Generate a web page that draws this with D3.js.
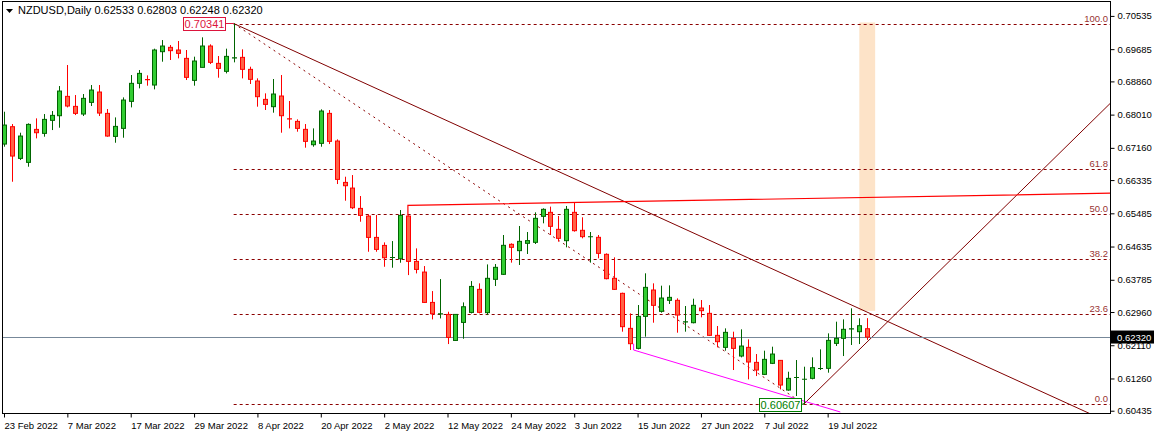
<!DOCTYPE html>
<html>
<head>
<meta charset="utf-8">
<script src="https://cdn.jsdelivr.net/npm/d3@7"></script>
<style>
  body { margin: 0; background: #fff; }
  svg { display: block; font-family: "Liberation Sans", Arial, sans-serif; }
</style>
</head>
<body>
<div id="chart-area"></div>
<script>
// NZDUSD daily candles, 23 Feb 2022 .. 26 Jul 2022 : [open, high, low, close]
var ohlc = [
  [0.67257,0.68084,0.67189,0.67743],[0.67701,0.67769,0.66293,0.66950],[0.66890,0.67547,0.66848,0.67462],
  [0.66788,0.67786,0.66677,0.67760],[0.67632,0.67914,0.67402,0.67547],[0.67530,0.68025,0.67445,0.67888],
  [0.67863,0.68102,0.67615,0.67991],[0.67982,0.68741,0.67675,0.68613],[0.68477,0.69279,0.68195,0.68230],
  [0.68221,0.68511,0.67999,0.68042],[0.68025,0.68537,0.67974,0.68426],[0.68323,0.68767,0.68230,0.68639],
  [0.68588,0.68767,0.67974,0.68050],[0.68042,0.68153,0.67445,0.67462],[0.67453,0.67939,0.67291,0.67709],
  [0.67658,0.68451,0.67419,0.68383],[0.68349,0.69023,0.68195,0.68810],[0.68810,0.69151,0.68682,0.69065],
  [0.68905,0.69014,0.68750,0.68886],[0.68767,0.69697,0.68656,0.69663],[0.69620,0.69918,0.69364,0.69765],
  [0.69731,0.69790,0.69407,0.69646],[0.69663,0.69893,0.69449,0.69577],[0.69449,0.69663,0.68895,0.68963],
  [0.68886,0.69492,0.68750,0.69381],[0.69219,0.69987,0.69219,0.69765],[0.69765,0.69808,0.69304,0.69347],
  [0.69321,0.69509,0.68954,0.69193],[0.69117,0.69697,0.69065,0.69500],[0.69440,0.70341,0.69347,0.69460],
  [0.69475,0.69680,0.68937,0.69168],[0.69168,0.69236,0.68793,0.68912],[0.68870,0.68938,0.68213,0.68469],
  [0.68400,0.68554,0.68128,0.68272],[0.68213,0.68921,0.68059,0.68537],[0.68486,0.69023,0.67547,0.67982],
  [0.67900,0.68358,0.67658,0.67889],[0.67837,0.67889,0.67573,0.67658],[0.67633,0.67769,0.67164,0.67326],
  [0.67240,0.67658,0.67189,0.67334],[0.67275,0.68145,0.67189,0.68102],[0.68042,0.68128,0.67257,0.67326],
  [0.67334,0.67377,0.66234,0.66353],[0.66276,0.66421,0.65807,0.66191],[0.66131,0.66464,0.65594,0.65628],
  [0.65611,0.65927,0.65270,0.65432],[0.65415,0.65458,0.64502,0.64869],[0.64869,0.65441,0.64502,0.64562],
  [0.64664,0.64741,0.64118,0.64349],[0.64340,0.64775,0.64093,0.64355],[0.64323,0.65569,0.64221,0.65432],
  [0.65415,0.65432,0.63905,0.64255],[0.64255,0.64588,0.63948,0.64050],[0.63982,0.64136,0.63197,0.63206],
  [0.63206,0.63496,0.62771,0.62916],[0.62900,0.63803,0.62796,0.62915],[0.62899,0.62967,0.62140,0.62310],
  [0.62233,0.62899,0.62225,0.62899],[0.62694,0.63206,0.62276,0.63095],[0.62950,0.63752,0.62924,0.63615],
  [0.63540,0.63694,0.62926,0.62952],[0.62944,0.64178,0.62882,0.63822],[0.63796,0.64188,0.63625,0.64103],
  [0.63924,0.64930,0.63907,0.64666],[0.64692,0.64717,0.64223,0.64615],[0.64530,0.65161,0.64163,0.64768],
  [0.64717,0.65007,0.64444,0.64787],[0.64743,0.65510,0.64700,0.65357],[0.65408,0.65613,0.65229,0.65587],
  [0.65510,0.65656,0.64930,0.65152],[0.65075,0.65417,0.64760,0.64845],[0.64785,0.65673,0.64615,0.65587],
  [0.65510,0.65766,0.65016,0.65041],[0.65050,0.65383,0.64845,0.64888],[0.64870,0.65007,0.64223,0.64885],
  [0.64871,0.64930,0.64333,0.64461],[0.64436,0.64461,0.63796,0.63813],[0.63822,0.64359,0.63523,0.63540],
  [0.63438,0.63455,0.62457,0.62585],[0.62542,0.62926,0.61988,0.62150],[0.62030,0.63139,0.62005,0.62849],
  [0.62849,0.63950,0.62329,0.63591],[0.63523,0.63694,0.62687,0.63131],[0.62977,0.63634,0.62943,0.63318],
  [0.63259,0.63642,0.63165,0.63335],[0.63259,0.63310,0.62431,0.62883],[0.62700,0.63114,0.62457,0.62708],
  [0.62687,0.63301,0.62670,0.63131],[0.63062,0.63267,0.62824,0.62994],[0.62926,0.63139,0.62346,0.62363],
  [0.62363,0.62602,0.62056,0.62201],[0.62056,0.62542,0.61971,0.62440],[0.62286,0.62457,0.61476,0.62030],
  [0.61834,0.62517,0.61800,0.62090],[0.62056,0.62261,0.61237,0.61681],[0.61672,0.61885,0.61322,0.61476],
  [0.61365,0.61971,0.61348,0.61749],[0.61647,0.62073,0.61629,0.61885],[0.61723,0.61732,0.60981,0.61092],
  [0.60964,0.61433,0.60947,0.61263],[0.61275,0.61732,0.60811,0.61285],[0.61230,0.61561,0.60607,0.61240],
  [0.61263,0.61800,0.61237,0.61536],[0.61505,0.62005,0.61476,0.61515],[0.61519,0.62414,0.61408,0.62235],
  [0.62158,0.62713,0.62090,0.62286],[0.62286,0.62772,0.61834,0.62517],[0.62520,0.63054,0.62116,0.62530],
  [0.62457,0.62798,0.62141,0.62610],[0.62533,0.62803,0.62248,0.62320]
];

var dateTicks = ['23 Feb 2022','7 Mar 2022','17 Mar 2022','29 Mar 2022','8 Apr 2022','20 Apr 2022',
  '2 May 2022','12 May 2022','24 May 2022','3 Jun 2022','15 Jun 2022','27 Jun 2022','7 Jul 2022','19 Jul 2022'];
var priceTicks = [0.70535,0.69685,0.68860,0.68010,0.67160,0.66335,0.65485,0.64635,0.63785,0.62960,0.62110,0.61260,0.60435];

var fibHigh = 0.70341, fibLow = 0.60607;
var fibRatios = [100.0, 61.8, 50.0, 38.2, 23.6, 0.0];

var width = 1156, height = 435;
var plot = { left: 2.5, right: 1110.5, top: 1.5, bottom: 413.5 };

var svg = d3.select('#chart-area').append('svg')
    .attr('width', width).attr('height', height);

var x = d3.scaleLinear().domain([0, 139.4]).range([4, 1108]);
var y = d3.scaleLinear().domain([fibLow, fibHigh]).range([404, 23.5]);

svg.append('clipPath').attr('id', 'plotclip').append('rect')
    .attr('x', plot.left).attr('y', plot.top)
    .attr('width', plot.right - plot.left).attr('height', plot.bottom - plot.top);

var g = svg.append('g').attr('clip-path', 'url(#plotclip)');

function lineThrough(i1, p1, i2, p2, x1, x2) {
    var s = (p2 - p1) / (i2 - i1);
    return [[x1, p1 + s * (x1 - i1)], [x2, p1 + s * (x2 - i1)]];
}

// time zone highlight
g.append('rect')
    .attr('x', x(108)).attr('width', x(110) - x(108))
    .attr('y', y(0.70341) - 1).attr('height', y(0.62989) - y(0.70341) + 1)
    .attr('fill', '#fde3c8');

// fibonacci levels
var fibDark = '#8b0000';
fibRatios.forEach(function (r) {
    var p = fibLow + (fibHigh - fibLow) * r / 100;
    g.append('line')
        .attr('x1', x(29)).attr('x2', plot.right)
        .attr('y1', Math.round(y(p)) + 0.5).attr('y2', Math.round(y(p)) + 0.5)
        .attr('stroke', fibDark).attr('stroke-dasharray', '3,3');
    g.append('text')
        .attr('x', 1108).attr('y', Math.round(y(p)) - 2)
        .attr('text-anchor', 'end').attr('font-size', 9.5)
        .attr('fill', '#993333').text(r.toFixed(1));
});

// fib trend (dashed)
g.append('line')
    .attr('x1', x(29)).attr('y1', y(fibHigh)).attr('x2', x(101)).attr('y2', y(fibLow))
    .attr('stroke', fibDark).attr('stroke-dasharray', '2,4');

var lineGen = d3.line().x(function (d) { return x(d[0]); }).y(function (d) { return y(d[1]); });

// descending trendline
g.append('path')
    .attr('d', lineGen(lineThrough(29, 0.70341, 109, 0.62956, 29, 140)))
    .attr('stroke', '#800000').attr('fill', 'none');

// rising trendline
g.append('path')
    .attr('d', lineGen(lineThrough(101, 0.60607, 139.6, 0.68282, 101, 140)))
    .attr('stroke', '#800000').attr('fill', 'none');

// red resistance line
g.append('path')
    .attr('d', lineGen([[51, 0.65432], [51, 0.65688], [140, 0.66000]]))
    .attr('stroke', '#ff0000').attr('stroke-width', 1.2).attr('fill', 'none');

// magenta support line
g.append('path')
    .attr('d', lineGen([[79.5, 0.62150], [79.5, 0.61988], [105.6, 0.60402]]))
    .attr('stroke', '#ff00ff').attr('fill', 'none');

// current price line
g.append('line')
    .attr('x1', plot.left).attr('x2', plot.right)
    .attr('y1', Math.round(y(0.62320)) + 0.5).attr('y2', Math.round(y(0.62320)) + 0.5)
    .attr('stroke', '#778899');

// candles
var bars = g.selectAll('.candle').data(ohlc).enter().append('g').attr('class', 'candle');
bars.each(function (d, i) {
    var up = d[3] >= d[0];
    var cx = Math.round(x(i)) + 0.5;
    var el = d3.select(this);
    var wick = up ? '#006400' : '#ff0000';
    el.append('line')
        .attr('x1', cx).attr('x2', cx)
        .attr('y1', y(d[1])).attr('y2', y(d[2]))
        .attr('stroke', wick);
    var top = y(Math.max(d[0], d[3])), bot = y(Math.min(d[0], d[3]));
    if (bot - top < 1.5) {
        el.append('line').attr('x1', cx - 2.5).attr('x2', cx + 2.5)
            .attr('y1', top).attr('y2', top).attr('stroke', wick).attr('stroke-width', 1.2);
    } else {
        el.append('rect')
            .attr('x', cx - 2).attr('width', 4)
            .attr('y', top).attr('height', bot - top)
            .attr('fill', up ? '#32cd32' : '#ff6347')
            .attr('stroke', wick);
    }
});

// price labels at the extremes
function priceTag(text, bx, by, color, i, p) {
    svg.append('line')
        .attr('x1', bx + 42).attr('y1', by + 6.5).attr('x2', x(i)).attr('y2', y(p))
        .attr('stroke', color);
    svg.append('rect')
        .attr('x', bx + 0.5).attr('y', by + 0.5).attr('width', 42).attr('height', 13)
        .attr('fill', '#fff').attr('stroke', color);
    svg.append('text')
        .attr('x', bx + 21.5).attr('y', by + 11).attr('text-anchor', 'middle')
        .attr('font-size', 11).attr('fill', color).text(text);
}
priceTag('0.70341', 183, 17, '#dc143c', 29, 0.70341);
priceTag('0.60607', 759, 398, '#008000', 101, 0.60607);

// frame
svg.append('rect')
    .attr('x', plot.left).attr('y', plot.top)
    .attr('width', plot.right - plot.left).attr('height', plot.bottom - plot.top)
    .attr('fill', 'none').attr('stroke', '#000');

// right price axis
var yAxis = d3.axisRight(y).tickValues(priceTicks).tickSize(4)
    .tickFormat(function (d) { return d.toFixed(5); });
svg.append('g')
    .attr('class', 'y-axis')
    .attr('transform', 'translate(' + plot.right + ',0)')
    .call(yAxis)
    .call(function (a) {
        a.select('.domain').remove();
        a.selectAll('text').attr('font-size', 9.5)
            .attr('font-family', 'Liberation Sans, Arial, sans-serif').attr('x', 7);
    });

// current price box
svg.append('rect')
    .attr('x', 1111).attr('y', y(0.62320) - 6.5).attr('width', 43).attr('height', 13).attr('fill', '#000');
svg.append('text')
    .attr('x', 1117).attr('y', y(0.62320) + 4)
    .attr('font-size', 9.5).attr('font-family', 'Liberation Sans, Arial, sans-serif')
    .attr('fill', '#fff').text('0.62320');

// bottom date axis
var xTicks = dateTicks.map(function (d, i) { return i * 8; });
var xAxis = d3.axisBottom(x).tickValues(xTicks).tickSize(4)
    .tickFormat(function (d, i) { return dateTicks[i]; });
svg.append('g')
    .attr('class', 'x-axis')
    .attr('transform', 'translate(0,' + plot.bottom + ')')
    .call(xAxis)
    .call(function (a) {
        a.select('.domain').remove();
        a.selectAll('text').attr('text-anchor', 'start').attr('font-size', 9.5)
            .attr('font-family', 'Liberation Sans, Arial, sans-serif').attr('dy', '0.9em').attr('x', 0);
    });

// header
svg.append('path').attr('d', 'M6,9 L13,9 L9.5,13 Z').attr('fill', '#000');
svg.append('text')
    .attr('x', 18).attr('y', 14).attr('font-size', 11)
    .text('NZDUSD,Daily  0.62533 0.62803 0.62248 0.62320');
</script>
</body>
</html>
